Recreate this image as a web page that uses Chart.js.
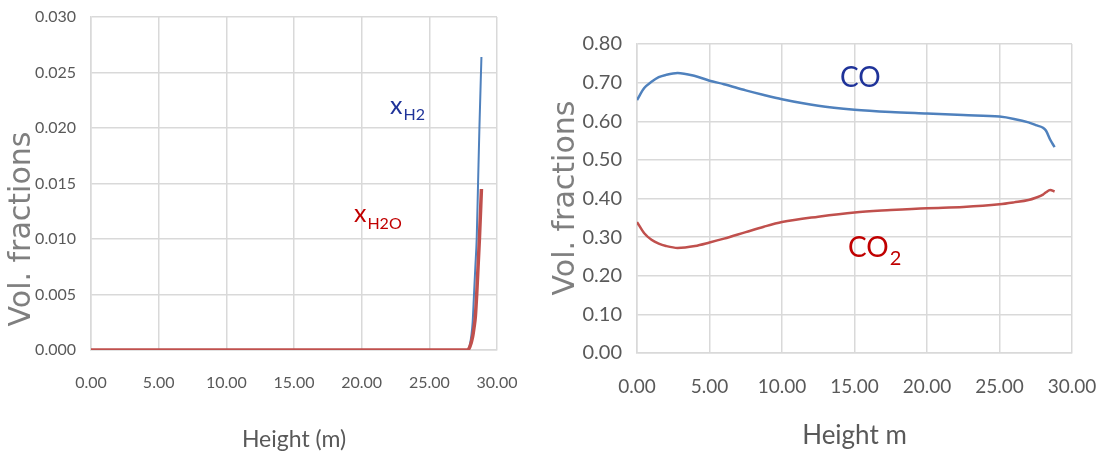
<!DOCTYPE html>
<html>
<head>
<meta charset="utf-8">
<script src="https://cdn.jsdelivr.net/npm/chart.js@4"></script>
<style>
  body { margin: 0; background: #fff; }
  .box { position: absolute; top: 0; height: 459px; }
  #leftBox { left: 0; width: 530px; }
  #rightBox { left: 540px; width: 560px; }
</style>
</head>
<body>
<div class="box" id="leftBox"><canvas id="leftChart" width="530" height="459"></canvas></div>
<div class="box" id="rightBox"><canvas id="rightChart" width="560" height="459"></canvas></div>
<script>
// linke Grafik: H2 / H2O
const heightsH2 = [0, 5, 10, 15, 20, 25, 27, 27.8, 28.0, 28.2, 28.3, 28.4, 28.5, 28.6, 28.7, 28.85];
const xH2 = [0, 0, 0, 0, 0, 0, 0, 0, 0.0005, 0.0025, 0.005, 0.0075, 0.010, 0.015, 0.020, 0.0264];
const xH2O = [0, 0, 0, 0, 0, 0, 0, 0, 0.0003, 0.0012, 0.002, 0.003, 0.005, 0.0075, 0.010, 0.0145];

// rechte Grafik: CO / CO2
const heightsCO = [0, 0.5, 1, 1.5, 2, 2.8, 4, 5, 6, 7.5, 8.75, 10, 12.5, 15, 17.5, 20, 22.5, 25, 26, 27, 27.5, 28, 28.2, 28.5, 28.8];
const xCO = [0.655, 0.686, 0.702, 0.714, 0.720, 0.725, 0.717, 0.705, 0.696, 0.680, 0.668, 0.657, 0.640, 0.630, 0.624, 0.620, 0.616, 0.612, 0.606, 0.597, 0.590, 0.583, 0.576, 0.552, 0.533];
const xCO2 = [0.339, 0.31, 0.293, 0.283, 0.277, 0.272, 0.277, 0.286, 0.296, 0.313, 0.327, 0.339, 0.353, 0.364, 0.370, 0.375, 0.378, 0.385, 0.390, 0.396, 0.402, 0.410, 0.416, 0.422, 0.418];

const narrow = 'Lato, "Liberation Sans Narrow", sans-serif';
const gridColor = '#d9d9d9';
const tickColor = '#595959';

function pts(xs, ys) {
    return xs.map((x, i) => ({ x: x, y: ys[i] }));
}

// Beschriftungen direkt an den Kurven (x_H2, CO, ...)
const labelPlugin = {
    id: 'curveLabels',
    afterDraw(chart, args, opts) {
        const ctx = chart.ctx;
        ctx.save();
        (opts.items || []).forEach(it => {
            const px = chart.scales.x.getPixelForValue(it.x);
            const py = chart.scales.y.getPixelForValue(it.y);
            ctx.fillStyle = it.color;
            ctx.textBaseline = 'alphabetic';
            ctx.textAlign = 'left';
            ctx.font = it.size + 'px ' + narrow;
            const base = py + it.size * 0.36;
            ctx.fillText(it.main, px, base);
            const w = ctx.measureText(it.main).width;
            ctx.font = it.subSize + 'px ' + narrow;
            ctx.fillText(it.sub, px + w + 1, base + it.subSize * 0.4);
        });
        // y-Achsentitel
        if (opts.yTitle) {
            const t = opts.yTitle;
            ctx.fillStyle = '#7f7f7f';
            ctx.font = t.size + 'px "DejaVu Sans", sans-serif';
            ctx.textAlign = 'center';
            ctx.textBaseline = 'middle';
            ctx.translate(t.x, chart.chartArea.bottom - t.fromBottom);
            ctx.rotate(-Math.PI / 2);
            ctx.fillText(t.text, 0, 0);
        }
        ctx.restore();
    }
};

// keine automatische Zusatz-Polsterung durch Achsenbeschriftungen
function noPad(s) {
    s.paddingLeft = 0;
    s.paddingRight = 0;
    s.paddingTop = 0;
    s.paddingBottom = 0;
}

function makeChart(id, cfg) {
    return new Chart(document.getElementById(id).getContext('2d'), {
        type: 'scatter',
        data: { datasets: cfg.datasets },
        plugins: [labelPlugin],
        options: {
            responsive: false,
            animation: false,
            layout: { padding: cfg.padding, autoPadding: false },
            plugins: {
                legend: { display: false },
                tooltip: { enabled: false },
                curveLabels: { items: cfg.labels, yTitle: cfg.yTitle }
            },
            elements: { point: { radius: 0 } },
            scales: {
                x: {
                    type: 'linear', min: 0, max: 30,
                    afterFit: s => { s.height = cfg.xHeight; noPad(s); },
                    grid: { color: gridColor, lineWidth: 1.5, drawTicks: false },
                    border: { color: gridColor, width: 1.5 },
                    ticks: {
                        stepSize: 5, padding: cfg.xTickPad, color: tickColor,
                        font: { family: narrow, size: cfg.xTickSize },
                        callback: v => v.toFixed(2)
                    },
                    title: {
                        display: true, text: cfg.xTitle, color: tickColor,
                        font: { family: narrow, size: cfg.xTitleSize },
                        padding: { top: 0, bottom: cfg.xTitlePad }
                    }
                },
                y: {
                    type: 'linear', min: 0, max: cfg.yMax,
                    afterFit: s => { s.width = cfg.yWidth; noPad(s); },
                    grid: { color: gridColor, lineWidth: 1.5, drawTicks: false },
                    border: { color: gridColor, width: 1.5 },
                    ticks: {
                        stepSize: cfg.yStep, padding: 15, color: tickColor,
                        font: { family: narrow, size: cfg.yTickSize },
                        callback: v => v.toFixed(cfg.yDec)
                    }
                }
            }
        }
    });
}

window.onload = function() {
    makeChart('leftChart', {
        padding: { left: 0, top: 17, right: 33, bottom: 0 },
        xHeight: 109, yWidth: 91,
        xTickPad: 23, xTickSize: 16, yTickSize: 16,
        xTitle: 'Height (m)', xTitleSize: 23, xTitlePad: 6,
        yMax: 0.030, yStep: 0.005, yDec: 3,
        yTitle: { text: 'Vol. fractions', x: 22, fromBottom: 121, size: 30 },
        labels: [
            { x: 22.1, y: 0.0221, main: 'x', sub: 'H2', color: '#1f3399', size: 25, subSize: 16 },
            { x: 19.43, y: 0.0123, main: 'x', sub: 'H2O', color: '#c00000', size: 25, subSize: 16 }
        ],
        datasets: [
            { data: pts(heightsH2, xH2O), showLine: true, borderColor: '#c0504d', borderWidth: 3.5, cubicInterpolationMode: 'monotone' },
            { data: pts(heightsH2, xH2), showLine: true, borderColor: '#4f81bd', borderWidth: 2, cubicInterpolationMode: 'monotone' }
        ]
    });

    makeChart('rightChart', {
        padding: { left: 0, top: 44, right: 28, bottom: 0 },
        xHeight: 106, yWidth: 97,
        xTickPad: 22, xTickSize: 19, yTickSize: 20,
        xTitle: 'Height m', xTitleSize: 26, xTitlePad: 8,
        yMax: 0.80, yStep: 0.10, yDec: 2,
        yTitle: { text: 'Vol. fractions', x: 26, fromBottom: 155, size: 30 },
        labels: [
            { x: 14.0, y: 0.714, main: 'CO', sub: '', color: '#1f3399', size: 28, subSize: 20 },
            { x: 14.55, y: 0.274, main: 'CO', sub: '2', color: '#c00000', size: 28, subSize: 20 }
        ],
        datasets: [
            { data: pts(heightsCO, xCO), showLine: true, borderColor: '#4f81bd', borderWidth: 2.5, cubicInterpolationMode: 'monotone' },
            { data: pts(heightsCO, xCO2), showLine: true, borderColor: '#c0504d', borderWidth: 2.5, cubicInterpolationMode: 'monotone' }
        ]
    });
};
</script>
</body>
</html>
